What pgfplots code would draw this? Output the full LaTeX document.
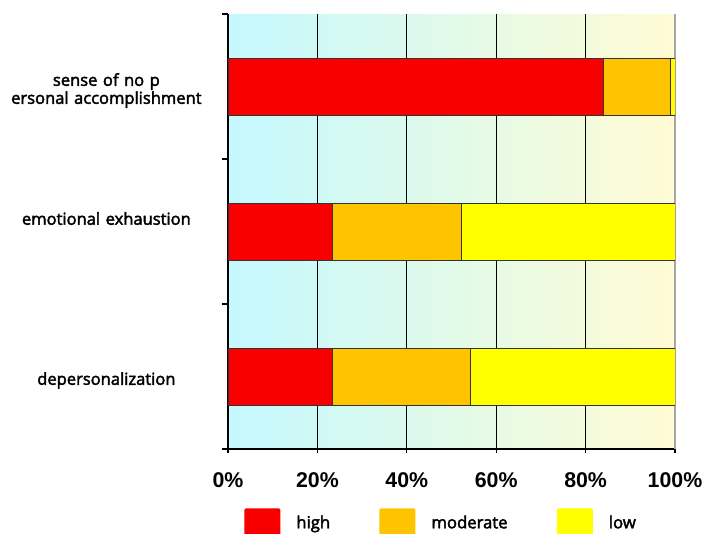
\documentclass[border=0pt]{standalone}
\usepackage{fontspec}
\setmainfont{Open Sans}[FakeBold=2.5]
\newfontfamily\tickfont{Liberation Sans}
\usepackage{pgfplots}
\pgfplotsset{compat=1.18}
\definecolor{cHigh}{HTML}{F80000}
\definecolor{cMod}{HTML}{FFC400}
\definecolor{cLow}{HTML}{FFFF00}
\definecolor{bgL}{RGB}{196,248,254}
\definecolor{bgM}{RGB}{228,250,234}
\definecolor{bgR}{RGB}{255,251,212}
\begin{document}
\begin{tikzpicture}
\useasboundingbox (0,0) rectangle (530.25pt,399.75pt);
\begin{axis}[
  at={(171pt,63pt)}, anchor=south west,
  scale only axis, width=335.25pt, height=326.25pt,
  xbar stacked, bar width=42.75pt,
  xmin=0, xmax=100, ymin=-0.5, ymax=2.5,
  axis x line*=bottom, axis y line*=left,
  axis line style={black, line width=0.8pt},
  axis background/.style={shading=axis, left color=bgL, middle color=bgM, right color=bgR, shading angle=90},
  xtick={0,20,40,60,80},
  extra x ticks={100},
  extra x tick style={grid style={gray!70, line width=0.8pt}},
  xmajorgrids=true,
  grid style={black, line width=0.8pt},
  xticklabel={\pgfmathprintnumber{\tick}\%},
  /pgf/number format/assume math mode=true,
  xticklabel style={font=\tickfont\bfseries\fontsize{16}{16}\selectfont, yshift=-11pt},
  tick align=outside,
  major tick length=3pt,
  ytick={0,2},
  yticklabels={depersonalization, {sense of no p\\ersonal accomplishment}},
  extra y ticks={1.117},
  extra y tick labels={emotional exhaustion},
  extra y tick style={ymajorgrids=false},
  minor ytick={-0.5,0.5,1.5,2.5},
  yticklabel style={font=\fontsize{12.4}{13.5}\selectfont, align=center, text width=150pt, inner sep=0pt, xshift=-13pt, yshift=-3pt},
  every major y tick/.append style={draw=none},
  minor tick length=4.5pt,
  tick style={black, line width=0.8pt},
  legend columns=3,
  legend style={at={(axis description cs:0.036,-0.170)}, anchor=west, draw=none, fill=none, inner sep=0pt,
    font=\fontsize{12.5}{14}\selectfont,
    nodes={inner sep=0pt},
    /tikz/every odd column/.append style={column sep=12pt},
    /tikz/every even column/.append style={column sep=37pt}},
  legend image code/.code={\fill[#1, draw=none, rounded corners=1.5pt] (0pt,-11pt) rectangle (27pt,11pt);},
]
\addplot[fill=cHigh, draw=black!80, line width=0.6pt] coordinates {(23.4,0) (23.3,1) (83.9,2)};
\addplot[fill=cMod, draw=black!80, line width=0.6pt] coordinates {(30.9,0) (29.0,1) (15.1,2)};
\addplot[fill=cLow, draw=black!80, line width=0.6pt] coordinates {(45.7,0) (47.7,1) (1.0,2)};
\legend{high, moderate, low}
\end{axis}
\end{tikzpicture}
\end{document}
